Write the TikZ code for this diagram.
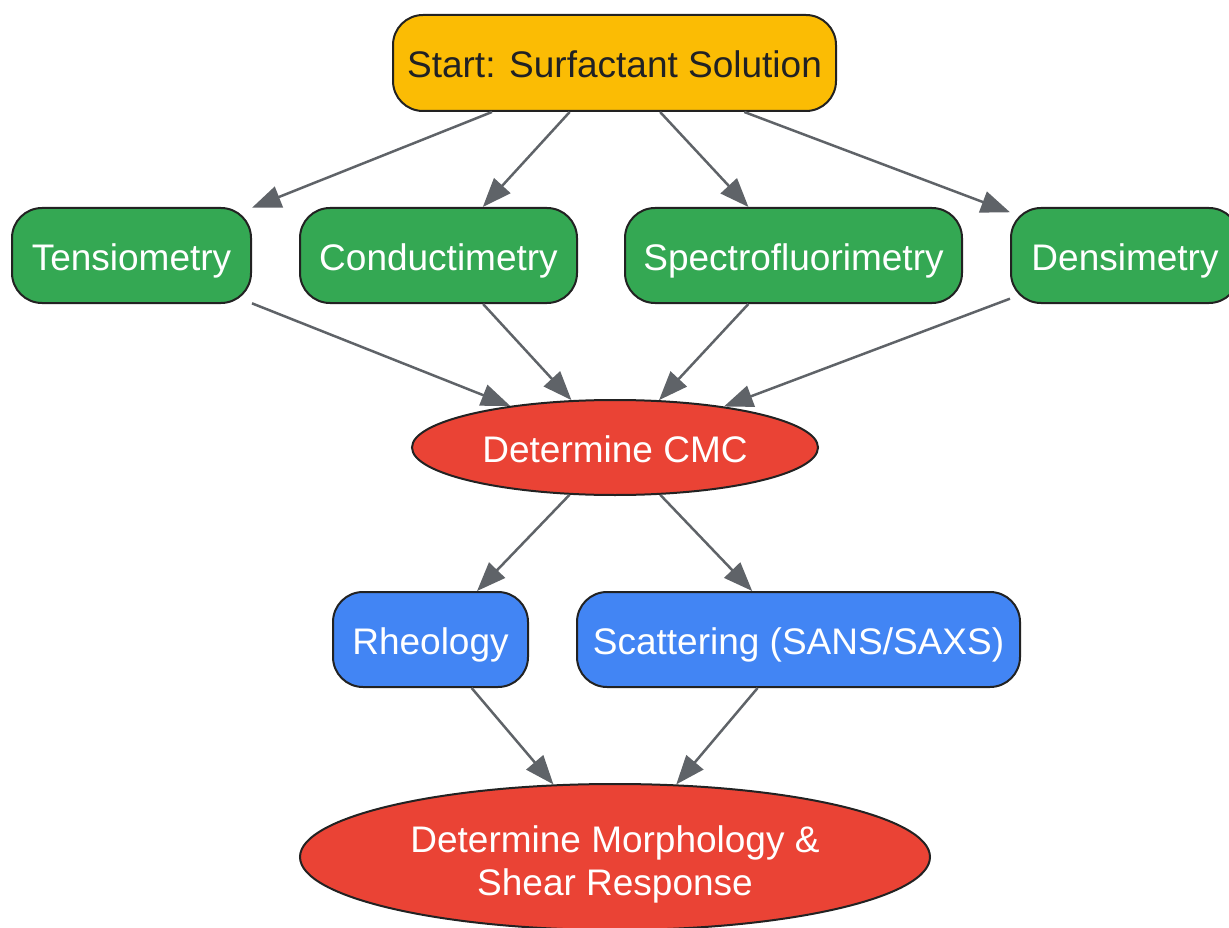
\documentclass[tikz,border=0pt]{standalone}
\usepackage{fontspec}
\setmainfont{Liberation Sans}
\usetikzlibrary{arrows.meta,shapes.geometric}
\definecolor{cyellow}{HTML}{FBBC04}
\definecolor{cgreen}{HTML}{34A853}
\definecolor{cred}{HTML}{EA4335}
\definecolor{cblue}{HTML}{4285F4}
\definecolor{carrow}{HTML}{5F6368}
\definecolor{cborder}{HTML}{222222}
\definecolor{cdark}{HTML}{202124}
\begin{document}
\begin{tikzpicture}[x=1pt,y=-1pt,
  base/.style={draw=cborder,line width=2pt,inner sep=0pt,
    font=\fontsize{37}{43}\selectfont,text=white},
  procbox/.style={base,rectangle,rounded corners=30pt,minimum height=95pt,
    text height=29.5pt,text depth=0pt},
  ovalnode/.style={base,ellipse},
  arr/.style={draw=carrow,line width=2.5pt,-{Triangle[length=29pt,width=22pt]}}
]
\useasboundingbox (0,0) rectangle (1229,928);
\node[procbox,fill=cyellow,text=cdark,minimum width=443pt,minimum height=96pt] (start) at (614.5,63) {Start: Surfactant Solution};
\node[procbox,fill=cgreen,minimum width=239pt] (tens) at (131.5,255.5) {Tensiometry};
\node[procbox,fill=cgreen,minimum width=277pt] (cond) at (438.5,255.5) {Conductimetry};
\node[procbox,fill=cgreen,minimum width=337pt] (spec) at (793.5,255.5) {Spectrofluorimetry};
\node[procbox,fill=cgreen,minimum width=228pt] (dens) at (1125,255.5) {Densimetry};
\node[ovalnode,fill=cred,minimum width=406pt,minimum height=95pt,text height=29.5pt,text depth=0pt] (cmc) at (615,447.5) {Determine CMC};
\node[procbox,fill=cblue,minimum width=195pt] (rheo) at (430.5,639.5) {Rheology};
\node[procbox,fill=cblue,minimum width=443pt] (scat) at (798.5,639.5) {Scattering (SANS/SAXS)};
\node[ovalnode,fill=cred,minimum width=630pt,minimum height=146pt,align=center,text height=77.5pt,text depth=0pt] (morph) at (615,857) {Determine Morphology \&\\Shear Response};
\draw[arr] (start) -- (tens);
\draw[arr] (start) -- (cond);
\draw[arr] (start) -- (spec);
\draw[arr] (start) -- (dens);
\draw[arr] (tens) -- (cmc);
\draw[arr] (cond) -- (cmc);
\draw[arr] (spec) -- (cmc);
\draw[arr] (dens) -- (cmc);
\draw[arr] (cmc) -- (rheo);
\draw[arr] (cmc) -- (scat);
\draw[arr] (rheo) -- (morph);
\draw[arr] (scat) -- (morph);
\end{tikzpicture}
\end{document}
